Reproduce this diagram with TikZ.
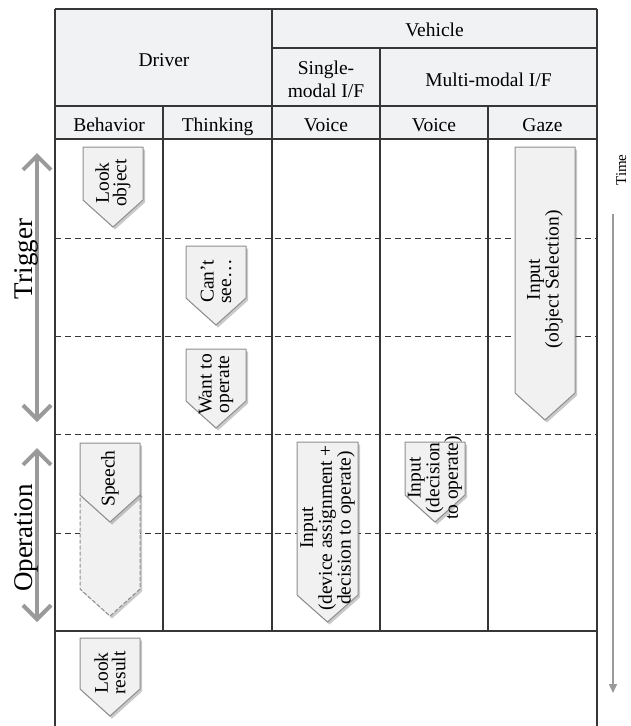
\documentclass[tikz,border=0pt]{standalone}
\usepackage{fontspec}
\setmainfont{Liberation Serif}
\usetikzlibrary{arrows.meta,shadows}

\definecolor{gridcol}{HTML}{363636}
\definecolor{headfill}{HTML}{F1F2F3}
\definecolor{tagfill}{HTML}{F1F1F2}
\definecolor{tagdraw}{HTML}{8E8E8E}
\definecolor{spancol}{HTML}{9A9A9A}

% downward pointing tag: name, left x, right x, top y, tip y, text
\newcommand\DownTag[6]{%
  \path[tagshape] (#2,#4) -- (#3,#4) -- (#3,#5-27) -- ({(#2+#3)/2},#5)
    -- (#2,#5-27) -- cycle;
  \node[tagtext] (#1) at ({(#2+#3)/2},{(#4+#5)/2-4}) {#6};
}

\begin{document}
\begin{tikzpicture}[x=1pt,y=-1pt,
  grid/.style={draw=gridcol,line width=1.3pt},
  rowsep/.style={draw=gridcol,line width=1pt,dash pattern=on 6pt off 4pt},
  hdr/.style={inner sep=0pt,font=\fontsize{19.5}{23}\selectfont},
  tagshape/.style={fill=tagfill,draw=tagdraw,line width=1pt,line join=round,
    drop shadow={shadow xshift=2pt,shadow yshift=-2.5pt,opacity=0.3,fill=black!70}},
  ghostshape/.style={tagshape,dash pattern=on 4pt off 2pt},
  tagtext/.style={rotate=90,align=center,inner sep=0pt,
    font=\fontsize{19.5}{17.5}\selectfont},
  phase/.style={rotate=90,anchor=base,inner sep=0pt,font=\fontsize{27}{30}\selectfont},
  span/.style={draw=spancol,line width=4.5pt,
    {Straight Barb[length=14pt,width=28pt,line width=4pt]}-{Straight Barb[length=14pt,width=28pt,line width=4pt]}},
  timeline/.style={draw=spancol,line width=1.6pt,-{Triangle[length=9pt,width=8pt]}}
]
\useasboundingbox (0,0) rectangle (630,726);

% header background
\fill[headfill] (55,9) rectangle (597,139);

% table frame and columns
\draw[grid] (55,9) -- (597,9);
\draw[grid] (55,9) -- (55,726);
\draw[grid] (597,9) -- (597,726);
\draw[grid] (272,9) -- (272,631);
\draw[grid] (272,48) -- (597,48);
\draw[grid] (55,106) -- (597,106);
\draw[grid] (380,48) -- (380,631);
\draw[grid] (163,106) -- (163,631);
\draw[grid] (488,106) -- (488,631);
\draw[grid] (55,139) -- (597,139);
\draw[grid] (55,631) -- (597,631);

% time slots
\foreach \yy in {238,336,434,533}
  \draw[rowsep] (55,\yy) -- (597,\yy);

% header labels
\node[hdr,anchor=base] (driver) at (164,66) {Driver};
\node[hdr,anchor=base] (vehicle) at (434.5,36.5) {Vehicle};
\node[hdr,align=center] (single) at (326,79) {Single-\\modal I/F};
\node[hdr,anchor=base] (multi) at (488.5,86) {Multi-modal I/F};
\node[hdr,anchor=base] (behav) at (109,131) {Behavior};
\node[hdr,anchor=base] (think) at (217.5,131) {Thinking};
\node[hdr,anchor=base] (voicea) at (326,131) {Voice};
\node[hdr,anchor=base] (voiceb) at (434,131) {Voice};
\node[hdr,anchor=base] (gaze) at (542.5,131) {Gaze};

% steps
\DownTag{lookobj}{83}{143}{147}{227}{Look\\object}
\DownTag{cantsee}{186}{246}{246}{325}{Can’t\\see…}
\DownTag{wantop}{186}{246}{349}{428}{Want to\\operate}
\DownTag{inobj}{515}{575}{147}{420}{Input\\(object Selection)}
\path[ghostshape] (80,493) -- (140,493) -- (140,589) -- (110,616) -- (80,589) -- cycle;
\DownTag{speech}{80}{140}{443}{522}{Speech}
\DownTag{indev}{297}{358}{442}{622}{Input\\(device assignment +\\decision to operate)}
\DownTag{indec}{405}{465}{442}{522}{Input\\(decision\\to operate)}
\DownTag{lookres}{80}{140}{638}{716}{Look\\result}

% phases
\coordinate (trigA) at (37,153);
\coordinate (trigB) at (37,422);
\coordinate (operA) at (37,448);
\coordinate (operB) at (37,622);
\draw[span] (trigA) -- (trigB);
\draw[span] (operA) -- (operB);
\node[phase] (trigger) at (32,259) {Trigger};
\node[phase] (operation) at (32,538) {Operation};

% time axis
\node[rotate=90,anchor=base,inner sep=0pt,font=\fontsize{15}{17}\selectfont] (time) at (626,170) {Time};
\coordinate (timeA) at (613,214);
\coordinate (timeB) at (613,693);
\draw[timeline] (timeA) -- (timeB);
\end{tikzpicture}
\end{document}
